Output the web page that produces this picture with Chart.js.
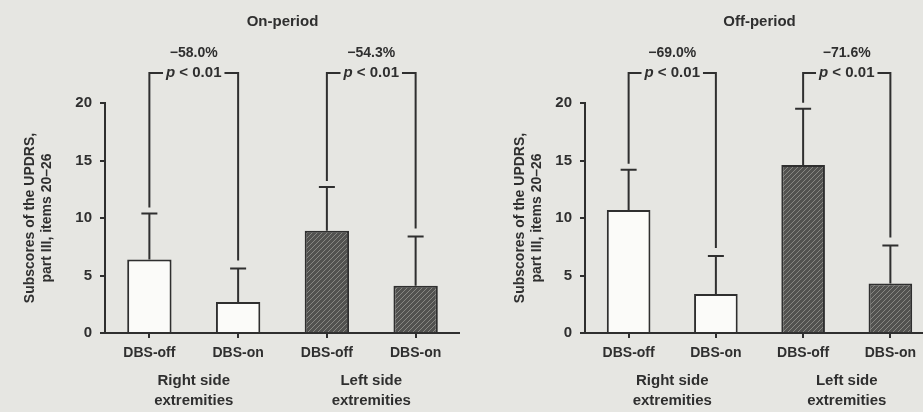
<!DOCTYPE html>
<html>
<head>
<meta charset="utf-8">
<script src="https://cdn.jsdelivr.net/npm/chart.js@4.4.1/dist/chart.umd.min.js"></script>
<style>
    html, body { margin: 0; padding: 0; }
    body { width: 923px; height: 412px; overflow: hidden; position: relative; background: #e6e6e2; }
    .panel { position: absolute; top: 0; height: 412px; }
    #onWrap { left: 0; width: 460px; }
    #offWrap { left: 460px; width: 474px; }
</style>
</head>
<body>
<div class="panel" id="onWrap"><canvas id="onChart"></canvas></div>
<div class="panel" id="offWrap"><canvas id="offChart"></canvas></div>
<script>
// Data
const conditions = ['DBS-off', 'DBS-on', 'DBS-off', 'DBS-on'];
const sides = [['Right side', 'extremities'], ['Left side', 'extremities']];
const yTicks = [0, 5, 10, 15, 20];
const yLabel = ['Subscores of the UPDRS,', 'part III, items 20\u201326'];

const onMeans = [6.4, 2.7, 8.9, 4.1];
const onSD = [4.0, 2.9, 3.8, 4.3];
const onChanges = ['\u221258.0%', '\u221254.3%'];

const offMeans = [10.7, 3.4, 14.6, 4.3];
const offSD = [3.5, 3.3, 4.9, 3.3];
const offChanges = ['\u221269.0%', '\u221271.6%'];

const pValues = ['< 0.01', '< 0.01'];

const INK = '#2f2f2f';
const FONT = "'Liberation Sans', Arial, sans-serif";

// Hatched fill for the left-side bars
const makeHatch = () => {
    const c = document.createElement('canvas');
    c.width = 5; c.height = 5;
    const g = c.getContext('2d');
    g.fillStyle = '#525250';
    g.fillRect(0, 0, 5, 5);
    g.strokeStyle = '#878783';
    g.lineWidth = 1;
    g.beginPath();
    g.moveTo(0, 5); g.lineTo(5, 0);
    g.moveTo(-1, 1); g.lineTo(1, -1);
    g.moveTo(4, 6); g.lineTo(6, 4);
    g.stroke();
    return g.createPattern(c, 'repeat');
};
const hatch = makeHatch();

// Error bars, comparison brackets and percent changes
const statsPlugin = {
    id: 'groupStats',
    afterDatasetsDraw(chart, args, opts) {
        const { ctx, chartArea } = chart;
        const y = chart.scales.y;
        const bars = chart.getDatasetMeta(0).data;
        ctx.save();
        ctx.strokeStyle = INK;
        ctx.fillStyle = INK;
        ctx.lineWidth = 2;

        // whiskers (mean + SD)
        bars.forEach((bar, i) => {
            const top = y.getPixelForValue(opts.means[i] + opts.sd[i]);
            ctx.beginPath();
            ctx.moveTo(bar.x, bar.y);
            ctx.lineTo(bar.x, top);
            ctx.moveTo(bar.x - 8, top);
            ctx.lineTo(bar.x + 8, top);
            ctx.stroke();
        });

        // brackets between DBS-off and DBS-on of each side
        const bracketY = chartArea.top - 30;
        const changeY = chartArea.top - 50;
        for (let g = 0; g < 2; g++) {
            const a = bars[2 * g], b = bars[2 * g + 1];
            const mid = (a.x + b.x) / 2;
            const legA = y.getPixelForValue(opts.means[2 * g] + opts.sd[2 * g]) - 6;
            const legB = y.getPixelForValue(opts.means[2 * g + 1] + opts.sd[2 * g + 1]) - 8;

            ctx.font = `italic bold 15px ${FONT}`;
            const wp = ctx.measureText('p').width;
            ctx.font = `bold 15px ${FONT}`;
            const rest = ' ' + pValues[g];
            const wr = ctx.measureText(rest).width;
            const w = wp + wr;
            const tx = mid - w / 2;

            ctx.beginPath();
            ctx.moveTo(a.x, legA);
            ctx.lineTo(a.x, bracketY);
            ctx.lineTo(tx - 3, bracketY);
            ctx.moveTo(tx + w + 3, bracketY);
            ctx.lineTo(b.x, bracketY);
            ctx.lineTo(b.x, legB);
            ctx.stroke();

            ctx.textBaseline = 'middle';
            ctx.textAlign = 'left';
            ctx.font = `italic bold 15px ${FONT}`;
            ctx.fillText('p', tx, bracketY);
            ctx.font = `bold 15px ${FONT}`;
            ctx.fillText(rest, tx + wp, bracketY);

            ctx.textAlign = 'center';
            ctx.font = `bold 14px ${FONT}`;
            ctx.fillText(opts.changes[g], mid, changeY);
        }
        ctx.restore();
    }
};

const buildChart = (id, title, means, sd, changes, titlePad) => {
    return new Chart(document.getElementById(id), {
        type: 'bar',
        data: {
            labels: conditions,
            datasets: [{
                data: means,
                backgroundColor: ['#fbfbf9', '#fbfbf9', hatch, hatch],
                borderColor: INK,
                borderWidth: 2,
                barPercentage: 0.5,
                categoryPercentage: 1
            }]
        },
        options: {
            responsive: true,
            maintainAspectRatio: false,
            animation: false,
            layout: { padding: { left: 0, right: 0, top: 0, bottom: 0 } },
            plugins: {
                legend: { display: false },
                tooltip: { enabled: false },
                title: {
                    display: true,
                    text: title,
                    fullSize: false,
                    color: INK,
                    font: { family: FONT, size: 15, weight: 'bold' },
                    padding: { top: 13, bottom: 72 }
                },
                groupStats: { means, sd, changes }
            },
            scales: {
                x: {
                    weight: 0,
                    offset: true,
                    grid: { drawOnChartArea: false, offset: false, tickLength: 5, color: INK, lineWidth: 2 },
                    border: { color: INK, width: 2 },
                    ticks: { color: INK, padding: 7, font: { family: FONT, size: 14, weight: 'bold' }, maxRotation: 0, autoSkip: false },
                    afterFit: s => { s.height = 29; }
                },
                x2: {
                    type: 'category',
                    labels: sides,
                    position: 'bottom',
                    weight: 1,
                    offset: true,
                    grid: { display: false, drawTicks: false },
                    border: { display: false },
                    ticks: { color: INK, padding: 9, font: { family: FONT, size: 15, weight: 'bold', lineHeight: 1.33 }, maxRotation: 0, autoSkip: false },
                    afterFit: s => { s.height = 50; }
                },
                y: {
                    min: 0,
                    max: 20,
                    afterBuildTicks: s => { s.ticks = yTicks.map(v => ({ value: v })); },
                    grid: { drawOnChartArea: false, tickLength: 5, color: INK, lineWidth: 2 },
                    border: { color: INK, width: 2 },
                    ticks: { color: INK, padding: 8, font: { family: FONT, size: 15, weight: 'bold' } },
                    title: {
                        display: true,
                        text: yLabel,
                        color: INK,
                        font: { family: FONT, size: 14, weight: 'bold', lineHeight: 1.2 },
                        padding: { top: titlePad, bottom: 0 }
                    },
                    afterFit: s => { s.width = id === 'onChart' ? 105 : 125; }
                }
            }
        },
        plugins: [statsPlugin]
    });
};

buildChart('onChart', 'On-period', onMeans, onSD, onChanges, 21.6);
buildChart('offChart', 'Off-period', offMeans, offSD, offChanges, 51.6);
</script>
</body>
</html>
